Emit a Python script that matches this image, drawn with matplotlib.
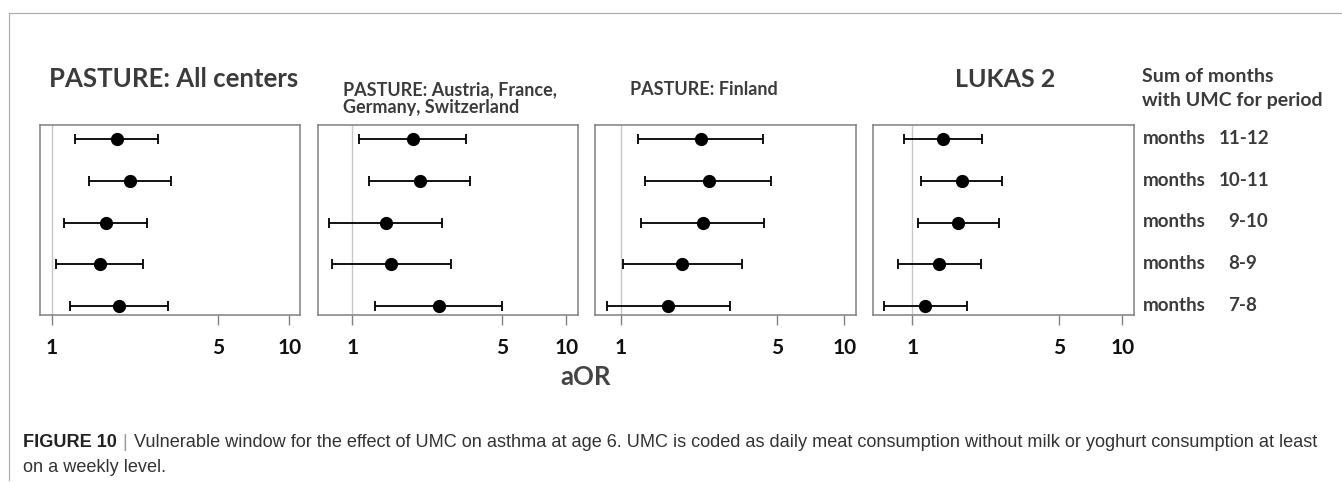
import matplotlib
matplotlib.use('Agg')
import matplotlib.pyplot as plt
from matplotlib.lines import Line2D

# periods, bottom row first
periods = ['7-8', '8-9', '9-10', '10-11', '11-12']
row_labels = ['months    7-8', 'months    8-9', 'months    9-10', 'months  10-11', 'months  11-12']

titles = ['PASTURE: All centers', 'PASTURE: Austria, France,\nGermany, Switzerland',
          'PASTURE: Finland', 'LUKAS 2']

# aOR point estimates and 95% CI, bottom row (7-8) first
all_or = [1.92, 1.59, 1.69, 2.13, 1.88]
all_lo = [1.20, 1.04, 1.13, 1.43, 1.25]
all_hi = [3.09, 2.43, 2.52, 3.19, 2.80]

afgs_or = [2.54, 1.52, 1.43, 2.08, 1.92]
afgs_lo = [1.28, 0.80, 0.78, 1.20, 1.07]
afgs_hi = [5.02, 2.90, 2.63, 3.56, 3.41]

fin_or = [1.63, 1.88, 2.34, 2.48, 2.28]
fin_lo = [0.87, 1.02, 1.23, 1.29, 1.20]
fin_hi = [3.08, 3.49, 4.38, 4.69, 4.33]

lukas_or = [1.15, 1.34, 1.65, 1.73, 1.40]
lukas_lo = [0.73, 0.85, 1.06, 1.10, 0.91]
lukas_hi = [1.82, 2.12, 2.59, 2.66, 2.15]

panels = [(all_or, all_lo, all_hi), (afgs_or, afgs_lo, afgs_hi),
          (fin_or, fin_lo, fin_hi), (lukas_or, lukas_lo, lukas_hi)]
xticks = [1, 5, 10]

W, H = 1342, 483
fig = plt.figure(figsize=(W / 100, H / 100), dpi=100)

def fx(x):
    return x / W

def fy(y):
    return 1 - y / H

# axes boxes in pixels (left, right) and x-limits
boxes = [(40, 300), (318, 578), (595, 856), (873, 1134)]
xlims = [(0.893, 11.09), (0.691, 11.33), (0.767, 11.28), (0.649, 11.37)]
top, bottom = 125, 315

cal = ['Lato', 'DejaVu Sans']
dark = '#3b3b3b'

for i, (l, r) in enumerate(boxes):
    ax = fig.add_axes([fx(l), fy(bottom), (r - l) / W, (bottom - top) / H])
    est, lo, hi = panels[i]
    ypos = list(range(1, len(est) + 1))
    xerr = [[e - a for e, a in zip(est, lo)], [b - e for e, b in zip(est, hi)]]
    ax.axvline(1, color='#c8c8c8', lw=1.0, zorder=1)
    ax.errorbar(est, ypos, xerr=xerr, fmt='o', color='black', ms=8.5,
                elinewidth=1.3, capsize=3.5, capthick=1.3, zorder=3)
    ax.set_xscale('log')
    ax.set_xlim(*xlims[i])
    ax.set_ylim(0.784, 5.343)
    ax.set_yticks([])
    ax.set_xticks(xticks)
    ax.set_xticklabels([str(t) for t in xticks], fontfamily=cal,
                       fontweight='bold', fontsize=15, color='#111111')
    ax.minorticks_off()
    ax.tick_params(axis='x', length=7.5, width=1.0, color='#808080', pad=9)
    for s in ax.spines.values():
        s.set_color('#808080')
        s.set_linewidth(1.1)

# panel titles
fig.text(fx(49), fy(87), titles[0], fontfamily=cal, fontweight='bold',
         fontsize=18.5, color=dark, va='baseline')
t2 = titles[1].split('\n')
fig.text(fx(343), fy(95), t2[0], fontfamily=cal, fontweight='bold',
         fontsize=13, color=dark, va='baseline')
fig.text(fx(343), fy(113), t2[1], fontfamily=cal, fontweight='bold',
         fontsize=13, color=dark, va='baseline')
fig.text(fx(630), fy(95), titles[2], fontfamily=cal, fontweight='bold',
         fontsize=13, color=dark, va='baseline')
fig.text(fx(955), fy(87), titles[3], fontfamily=cal, fontweight='bold',
         fontsize=18, color=dark, va='baseline')

fig.text(fx(1142), fy(82), 'Sum of months', fontfamily=cal, fontweight='bold',
         fontsize=14, color=dark, va='baseline')
fig.text(fx(1142), fy(106), 'with UMC for period', fontfamily=cal, fontweight='bold',
         fontsize=14, color=dark, va='baseline')

# row labels to the right
row_y = [306, 264, 222.7, 181, 139.3]
for lab, y in zip(row_labels, row_y):
    word, per = lab.split(None, 1)
    fig.text(fx(1143), fy(y + 4.7), word, fontfamily=cal, fontweight='bold',
             fontsize=13.5, color=dark, va='baseline')
    xs = 1219 if len(per) == 5 else 1228
    fig.text(fx(xs), fy(y + 4.7), per, fontfamily=cal, fontweight='bold',
             fontsize=13.5, color=dark, va='baseline')

fig.text(fx(586), fy(385), 'aOR', fontfamily=cal, fontweight='bold',
         fontsize=18.5, color='#444444', va='baseline', ha='center')

# outer frame lines
fig.add_artist(Line2D([fx(9), 1], [fy(13), fy(13)], color='#b0b0b0', lw=0.9))
fig.add_artist(Line2D([fx(9), fx(9)], [fy(13), fy(480)], color='#b0b0b0', lw=0.9))

# caption
cap_font = ['Liberation Sans', 'DejaVu Sans']
renderer = fig.canvas.get_renderer()
t = fig.text(fx(23), fy(447), 'FIGURE 10', fontfamily=cap_font, fontweight='bold',
             fontsize=13.1, color='#222222', va='baseline')
x_end = t.get_window_extent(renderer).x1
t = fig.text(x_end / W + fx(6), fy(447), '|', fontfamily=cap_font,
             fontsize=13.1, color='#999999', va='baseline')
x_end = t.get_window_extent(renderer).x1
fig.text(x_end / W + fx(6), fy(447),
         'Vulnerable window for the effect of UMC on asthma at age 6. UMC is coded as daily '
         'meat consumption without milk or yoghurt consumption at least',
         fontfamily=cap_font, fontsize=13.1, color='#333333', va='baseline')
fig.text(fx(23), fy(472), 'on a weekly level.', fontfamily=cap_font,
         fontsize=13.1, color='#333333', va='baseline')

fig.savefig('out.png', dpi=100)
